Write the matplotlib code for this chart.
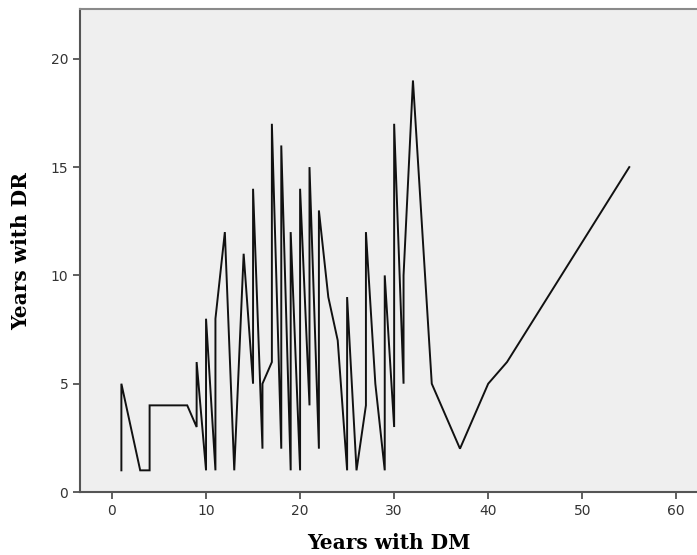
import matplotlib
matplotlib.use("Agg")
import matplotlib.pyplot as plt

# years with diabetes (x) and years with retinopathy (y), in drawing order
years_dm = [1, 1, 3, 4, 4, 8, 9, 9, 10, 10, 11, 11, 12, 13, 14, 15, 15, 16, 16,
            17, 17, 18, 18, 19, 19, 20, 20, 21, 21, 22, 22, 23, 24, 25, 25, 26,
            27, 27, 28, 29, 29, 30, 30, 31, 31, 32, 34, 37, 40, 42, 55]
years_dr = [1, 5, 1, 1, 4, 4, 3, 6, 1, 8, 1, 8, 12, 1, 11, 5, 14, 2, 5,
            6, 17, 2, 16, 1, 12, 1, 14, 4, 15, 2, 13, 9, 7, 1, 9, 1,
            4, 12, 5, 1, 10, 3, 17, 5, 10, 19, 5, 2, 5, 6, 15]

x_ticks = [0, 10, 20, 30, 40, 50, 60]
y_ticks = [0, 5, 10, 15, 20]

fig = plt.figure(figsize=(6.97, 5.55), dpi=100)
ax = fig.add_axes([80/697, 1-492/555, 1-80/697, (492-9)/555])
ax.set_facecolor("#efefef")

ax.plot(years_dm, years_dr, color="#111111", lw=1.4, solid_joinstyle="miter")

ax.set_xlim(-3.4, 62.2)
ax.set_ylim(0, 22.3)
ax.set_xticks(x_ticks)
ax.set_yticks(y_ticks)
ax.tick_params(direction="out", length=5, width=1.2, color="#444444",
               labelsize=10, labelcolor="#333333")

for side in ["left", "bottom", "top"]:
    ax.spines[side].set_color("#555555")
    ax.spines[side].set_linewidth(1.5)
ax.spines["right"].set_visible(False)
ax.spines["top"].set_color("#8a8a8a")

ax.set_xlabel("Years with DM", family="DejaVu Serif", fontweight="bold",
              fontsize=14.5, labelpad=11)
ax.set_ylabel("Years with DR", family="DejaVu Serif", fontweight="bold",
              fontsize=14.5, labelpad=14)

fig.savefig("out.png", dpi=100)
